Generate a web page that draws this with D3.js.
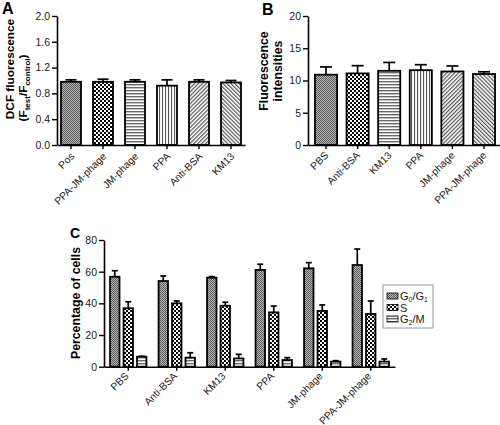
<!DOCTYPE html>
<html><head><meta charset="utf-8">
<script src="https://cdn.jsdelivr.net/npm/d3@7"></script>
<style>
body{margin:0;background:#fff;}
svg{display:block;font-family:"Liberation Sans",Arial,sans-serif;}
</style></head>
<body><svg id="c" width="500" height="425"></svg>
<script>
const catsA = ["Pos","PPA-JM-phage","JM-phage","PPA","Anti-BSA","KM13"];
const valsA = [0.98,0.98,0.98,0.92,0.98,0.97];
const errA  = [0.03,0.04,0.03,0.09,0.03,0.03];
const ticksA = [0,0.4,0.8,1.2,1.6,2.0];

const catsB = ["PBS","Anti-BSA","KM13","PPA","JM-phage","PPA-JM-phage"];
const valsB = [10.9,11.1,11.5,11.6,11.4,11.0];
const errB  = [1.2,1.2,1.3,0.85,0.85,0.35];
const ticksB = [0,5,10,15,20];

const catsC = ["PBS","Anti-BSA","KM13","PPA","JM-phage","PPA-JM-phage"];
const seriesC = ["G0/G1","S","G2/M"];
const g0g1 = [56.8,54.1,56.2,61.1,62.1,64.2];
const g0g1Err = [3.8,3.2,0.7,3.6,3.6,10.1];
const sVals = [36.9,40.0,38.5,34.3,35.2,33.3];
const sErr = [4.1,1.5,2.2,4.0,3.8,8.2];
const g2m = [6.3,5.7,5.2,4.2,3.2,3.2];
const g2mErr = [0.3,3.1,2.6,1.5,0.6,1.7];
const ticksC = [0,20,40,60,80];

const svg = d3.select("#c");
const defs = svg.append("defs");
function pat(id, w, h, bg, rects, tr){
  const p = defs.append("pattern").attr("id",id).attr("patternUnits","userSpaceOnUse")
    .attr("width",w).attr("height",h);
  if(tr) p.attr("patternTransform",tr);
  p.append("rect").attr("width",w).attr("height",h).attr("fill",bg);
  rects.forEach(r=>p.append("rect").attr("x",r[0]).attr("y",r[1]).attr("width",r[2]).attr("height",r[3]).attr("fill",r[4]));
}
pat("pGray",2,2,"#b4b4b4",[[0,0,1,1,"#5c5c5c"],[1,1,1,1,"#5c5c5c"]]);
pat("pChecker",4,4,"#fff",[[0,0,2,2,"#000"],[2,2,2,2,"#000"]]);
pat("pHoriz",4,3,"#fff",[[0,0,4,1.4,"#6a6a6a"]]);
pat("pVert",3,4,"#fff",[[0,0,1.1,4,"#555"]]);
pat("pDiagUp",2.8,4,"#fff",[[0,0,1.2,4,"#555"]],"rotate(45)");
pat("pDiagDown",2.8,4,"#fff",[[0,0,1.2,4,"#555"]],"rotate(-45)");
const patIds = ["pGray","pChecker","pHoriz","pVert","pDiagUp","pDiagDown"];

function styleAxis(g){
  g.selectAll("path.domain").attr("stroke","#000").attr("stroke-width",1.6);
  g.selectAll(".tick line").attr("stroke","#000").attr("stroke-width",1.4);
  g.selectAll(".tick text").attr("fill","#222").style("font-size","10.5px")
    .style("font-family",'"Liberation Sans",Arial,sans-serif');
}

function yAxis(x, y, ticks, fmt){
  const g = svg.append("g").attr("transform",`translate(${x},0)`)
    .call(d3.axisLeft(y).tickValues(ticks).tickFormat(fmt).tickSize(5).tickSizeOuter(0).tickPadding(2));
  styleAxis(g);
  return g;
}
function xAxis(x, yPos, dx, dy){
  const g = svg.append("g").attr("transform",`translate(0,${yPos})`)
    .call(d3.axisBottom(x).tickSize(4).tickSizeOuter(0));
  styleAxis(g);
  g.selectAll(".tick text").attr("x",0).attr("y",0).attr("dy",0)
    .attr("text-anchor","end").attr("transform",`translate(${dx},${dy}) rotate(-45)`)
    .style("font-size","10.2px");
  return g;
}
function errBars(data, cap){
  const g = svg.append("g").attr("stroke","#000").attr("stroke-width",1.7).attr("fill","none");
  data.forEach(d=>{
    g.append("line").attr("x1",d.cx).attr("x2",d.cx).attr("y1",d.y0).attr("y2",d.y1);
    g.append("line").attr("x1",d.cx-cap/2).attr("x2",d.cx+cap/2).attr("y1",d.y1).attr("y2",d.y1);
  });
}
function bars(data){
  svg.append("g").selectAll("rect").data(data).join("rect")
    .attr("x",d=>d.x).attr("y",d=>d.y).attr("width",d=>d.w).attr("height",d=>d.h)
    .attr("fill",d=>`url(#${d.pat})`).attr("stroke","#000").attr("stroke-width",1.8);
}
function rotTitle(lines, fs){
  lines.forEach(l=>{
    const t = svg.append("text").attr("transform",`translate(${l.x},${l.y}) rotate(-90)`)
      .attr("text-anchor","middle").style("font-size",fs+"px").style("font-weight","bold").attr("fill","#000");
    l.parts.forEach(p=>{
      const ts = t.append("tspan").text(p.t);
      if(p.sub){ ts.style("font-size","8px").attr("dy","3"); }
      else if(p.back){ ts.attr("dy","-3"); }
    });
  });
}

// ---------- Panel A ----------
const xA = d3.scaleBand().domain(catsA).range([57,245]).paddingInner(0.375).paddingOuter(0.125);
const yA = d3.scaleLinear().domain([0,2]).range([145,16]);
const dA = catsA.map((c,i)=>({x:xA(c),w:xA.bandwidth(),y:yA(valsA[i]),h:yA(0)-yA(valsA[i]),pat:patIds[i],
  cx:xA(c)+xA.bandwidth()/2,y0:yA(valsA[i]),y1:yA(valsA[i]+errA[i])}));
errBars(dA, 11);
bars(dA);
yAxis(57, yA, ticksA, d3.format(".1f"));
xAxis(xA, 145, 4, 12);
rotTitle([
  {x:14,y:69,parts:[{t:"DCF fluorescence"}]},
  {x:27,y:88,parts:[{t:"(F"},{t:"test",sub:true},{t:"/F",back:true},{t:"control",sub:true},{t:")",back:true}]}
], 11.8);
svg.append("text").attr("x",2).attr("y",14).text("A").style("font-size","16px").style("font-weight","bold");

// ---------- Panel B ----------
const xB = d3.scaleBand().domain(catsB).range([308,502]).paddingInner(0.3).paddingOuter(0.22);
const yB = d3.scaleLinear().domain([0,20]).range([145,16]);
const dB = catsB.map((c,i)=>({x:xB(c),w:xB.bandwidth(),y:yB(valsB[i]),h:yB(0)-yB(valsB[i]),pat:patIds[i],
  cx:xB(c)+xB.bandwidth()/2,y0:yB(valsB[i]),y1:yB(valsB[i]+errB[i])}));
errBars(dB, 12);
bars(dB);
yAxis(308, yB, ticksB, d3.format("d"));
xAxis(xB, 145, 3, 11);
rotTitle([
  {x:268,y:71,parts:[{t:"Fluorescence"}]},
  {x:282,y:71,parts:[{t:"intensities"}]}
], 12.3);
svg.append("text").attr("x",262).attr("y",15).text("B").style("font-size","16px").style("font-weight","bold");

// ---------- Panel C ----------
const x0 = d3.scaleBand().domain(catsC).range([104,395]).padding(0);
const x1 = d3.scaleBand().domain(seriesC).range([0,x0.bandwidth()]).paddingInner(0.3).paddingOuter(0.45);
const yC = d3.scaleLinear().domain([0,80]).range([366.7,240]);
const valsC = [g0g1,sVals,g2m], errC=[g0g1Err,sErr,g2mErr], patC=["pGray","pChecker","pHoriz"];
const dC = [];
catsC.forEach((c,i)=>seriesC.forEach((s,j)=>{
  const v = valsC[j][i], e = errC[j][i];
  dC.push({x:x0(c)+x1(s),w:x1.bandwidth(),y:yC(v),h:yC(0)-yC(v),pat:patC[j],
    cx:x0(c)+x1(s)+x1.bandwidth()/2,y0:yC(v),y1:yC(v+e)});
}));
errBars(dC, 6);
bars(dC);
yAxis(104, yC, ticksC, d3.format("d"));
xAxis(x0, 366.7, 1, 10);
rotTitle([{x:80,y:303,parts:[{t:"Percentage of cells"}]}], 12.3);
svg.append("text").attr("x",70).attr("y",238).text("C").style("font-size","14px").style("font-weight","bold");

// legend
const lg = svg.append("g");
lg.append("rect").attr("x",383).attr("y",285).attr("width",50).attr("height",43)
  .attr("fill","#fff").attr("stroke","#999").attr("stroke-width",1);
const legLabels = [
  [{t:"G"},{t:"0",sub:true},{t:"/G",back:true},{t:"1",sub:true}],
  [{t:"S"}],
  [{t:"G"},{t:"2",sub:true},{t:"/M",back:true}]
];
seriesC.forEach((s,j)=>{
  const cy = 296 + j*11.5;
  lg.append("rect").attr("x",387).attr("y",cy-3).attr("width",11).attr("height",6)
    .attr("fill",`url(#${patC[j]})`).attr("stroke","#000").attr("stroke-width",0.8);
  const t = lg.append("text").attr("x",400).attr("y",cy+4).style("font-size","11px").attr("fill","#222");
  legLabels[j].forEach(p=>{
    const ts = t.append("tspan").text(p.t);
    if(p.sub) ts.style("font-size","7px").attr("dy","2");
    else if(p.back) ts.attr("dy","-2");
  });
});
</script></body></html>
